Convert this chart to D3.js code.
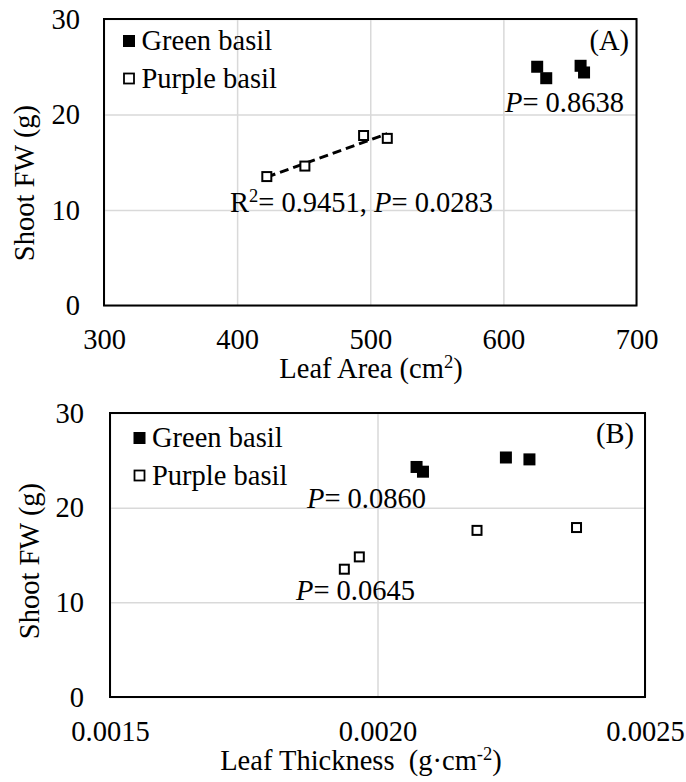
<!DOCTYPE html>
<html>
<head>
<meta charset="utf-8">
<script src="https://cdn.jsdelivr.net/npm/d3@7"></script>
<style>
body { margin: 0; background: #fff; }
svg text { font-family: "Liberation Serif", "Times New Roman", serif; fill: #000; }
</style>
</head>
<body>
<svg id="chart" width="686" height="782"></svg>
<script>
//panel (A): leaf area vs shoot fresh weight
var areaGreen = [625.4, 632.2, 658.0, 660.6];
var fwGreenA = [25.0, 23.8, 25.1, 24.4];
var areaPurple = [422.3, 450.9, 495.0, 512.8];
var fwPurpleA = [13.5, 14.6, 17.8, 17.5];

//panel (B): leaf thickness vs shoot fresh weight
var thickGreen = [0.002073, 0.002085, 0.002240, 0.002284];
var fwGreenB = [24.3, 23.8, 25.3, 25.1];
var thickPurple = [0.001938, 0.001966, 0.002186, 0.002372];
var fwPurpleB = [13.5, 14.8, 17.6, 17.9];

//ticks and labels
var areaTicks = [300, 400, 500, 600, 700];
var thickTicks = [0.0015, 0.0020, 0.0025];
var fwTicks = [0, 10, 20, 30];
var seriesNames = ["Green basil", "Purple basil"];

var FS = 28.5;
var svg = d3.select("#chart");

//zip two arrays into point objects
function pts(xs, ys) {
    return xs.map((x, i) => ({x: x, y: ys[i]}));
}

//least squares line through a set of points
function fitLine(p) {
    var mx = d3.mean(p, d => d.x), my = d3.mean(p, d => d.y);
    var sxy = d3.sum(p, d => (d.x - mx) * (d.y - my));
    var sxx = d3.sum(p, d => (d.x - mx) * (d.x - mx));
    var b = sxy / sxx;
    return {a: my - b * mx, b: b};
}

function drawPanel(o) {
    var g = svg.append("g").attr("transform", `translate(${o.left}, ${o.top})`);

    var x = d3.scaleLinear().domain(d3.extent(o.xTicks)).range([0, o.w]);
    var y = d3.scaleLinear().domain([0, 30]).range([o.h, 0]);

    //gridlines
    g.append("g")
        .attr("transform", `translate(0, ${o.h})`)
        .call(d3.axisBottom(x).tickValues(o.xTicks).tickSize(-o.h).tickFormat(""))
        .call(a => a.select(".domain").remove())
        .call(a => a.selectAll("line").attr("stroke", "#d9d9d9").attr("stroke-width", 1.5));
    g.append("g")
        .call(d3.axisLeft(y).tickValues(fwTicks).tickSize(-o.w).tickFormat(""))
        .call(a => a.select(".domain").remove())
        .call(a => a.selectAll("line").attr("stroke", "#d9d9d9").attr("stroke-width", 1.5));

    //tick labels
    g.append("g")
        .attr("transform", `translate(0, ${o.h})`)
        .call(d3.axisBottom(x).tickValues(o.xTicks).tickSize(0).tickPadding(o.xPad).tickFormat(o.xFormat))
        .call(a => a.select(".domain").remove())
        .call(a => a.selectAll("text").style("font-size", FS + "px")
            .style("font-family", '"Liberation Serif", "Times New Roman", serif'));
    g.append("g")
        .call(d3.axisLeft(y).tickValues(fwTicks).tickSize(0).tickPadding(o.yPad).tickFormat(d3.format("d")))
        .call(a => a.select(".domain").remove())
        .call(a => a.selectAll("text").style("font-size", FS + "px")
            .style("font-family", '"Liberation Serif", "Times New Roman", serif'));

    //plot border
    g.append("rect")
        .attr("width", o.w).attr("height", o.h)
        .attr("fill", "none").attr("stroke", "#000").attr("stroke-width", 2);

    //trendline
    if (o.trend) {
        var p = o.purple, f = fitLine(p);
        var xs = d3.extent(p, d => d.x);
        g.append("line")
            .attr("x1", x(xs[0])).attr("y1", y(f.a + f.b * xs[0]))
            .attr("x2", x(xs[1])).attr("y2", y(f.a + f.b * xs[1]))
            .attr("stroke", "#000").attr("stroke-width", 3)
            .attr("stroke-dasharray", "9,5");
    }

    //points
    g.selectAll(".green").data(o.green).enter().append("rect")
        .attr("class", "green")
        .attr("x", d => x(d.x) - 6).attr("y", d => y(d.y) - 6)
        .attr("width", 12).attr("height", 12)
        .attr("fill", "#000");
    g.selectAll(".purple").data(o.purple).enter().append("rect")
        .attr("class", "purple")
        .attr("x", d => x(d.x) - 4.5).attr("y", d => y(d.y) - 4.5)
        .attr("width", 9).attr("height", 9)
        .attr("fill", "#fff").attr("stroke", "#000").attr("stroke-width", 2);

    //legend
    var leg = g.append("g").attr("transform", `translate(${o.legX}, ${o.legY})`);
    seriesNames.forEach((name, i) => {
        var row = leg.append("g").attr("transform", `translate(0, ${i * 37.5})`);
        if (i === 0) {
            row.append("rect").attr("x", -6).attr("y", -6).attr("width", 12).attr("height", 12).attr("fill", "#000");
        } else {
            row.append("rect").attr("x", -5).attr("y", -5).attr("width", 10).attr("height", 10)
                .attr("fill", "#fff").attr("stroke", "#000").attr("stroke-width", 1.8);
        }
        row.append("text").attr("x", 12.5).attr("y", 9).style("font-size", FS + "px").text(name);
    });

    //panel tag
    g.append("text").attr("x", o.tagX).attr("y", o.tagY)
        .attr("text-anchor", "end").style("font-size", FS + "px").text(o.tag);

    //annotations
    o.notes.forEach(n => {
        var t = g.append("text").attr("x", n.x).attr("y", n.y).style("font-size", FS + "px");
        n.parts.forEach(part => {
            var s = t.append("tspan").text(part.t);
            if (part.i) s.style("font-style", "italic");
            if (part.sup) s.attr("baseline-shift", "super").style("font-size", (FS * 0.65) + "px");
        });
    });

    //axis titles
    var xt = svg.append("text").attr("x", o.xtX).attr("y", o.xtY)
        .attr("text-anchor", "middle").style("font-size", FS + "px").style("white-space", "pre");
    o.xTitle.forEach(part => {
        var s = xt.append("tspan").text(part.t);
        if (part.sup) s.attr("baseline-shift", "super").style("font-size", (FS * 0.65) + "px");
    });
    svg.append("text")
        .attr("transform", `translate(${o.ytX}, ${o.ytY}) rotate(-90)`)
        .attr("text-anchor", "middle").style("font-size", FS + "px")
        .text("Shoot FW (g)");
}

drawPanel({
    left: 104, top: 19, w: 532.5, h: 286.5,
    xTicks: areaTicks, xFormat: d3.format("d"), xPad: 23, yPad: 24,
    green: pts(areaGreen, fwGreenA), purple: pts(areaPurple, fwPurpleA), trend: true,
    legX: 25, legY: 22, tag: "(A)", tagX: 525, tagY: 31,
    notes: [
        {x: 126, y: 193, parts: [{t: "R"}, {t: "2", sup: true}, {t: "= 0.9451, "}, {t: "P", i: true}, {t: "= 0.0283"}]},
        {x: 401, y: 93, parts: [{t: "P", i: true}, {t: "= 0.8638"}]}
    ],
    xTitle: [{t: "Leaf Area (cm"}, {t: "2", sup: true}, {t: ")"}], xtX: 371, xtY: 378,
    ytX: 34, ytY: 183
});

drawPanel({
    left: 110, top: 413, w: 535, h: 284,
    xTicks: thickTicks, xFormat: d3.format(".4f"), xPad: 24, yPad: 26,
    green: pts(thickGreen, fwGreenB), purple: pts(thickPurple, fwPurpleB), trend: false,
    legX: 29.5, legY: 25, tag: "(B)", tagX: 524, tagY: 30,
    notes: [
        {x: 197, y: 95, parts: [{t: "P", i: true}, {t: "= 0.0860"}]},
        {x: 186, y: 187, parts: [{t: "P", i: true}, {t: "= 0.0645"}]}
    ],
    xTitle: [{t: "Leaf Thickness  (g\u00b7cm"}, {t: "-2", sup: true}, {t: ")"}], xtX: 361, xtY: 770,
    ytX: 38.5, ytY: 561
});
</script>
</body>
</html>
